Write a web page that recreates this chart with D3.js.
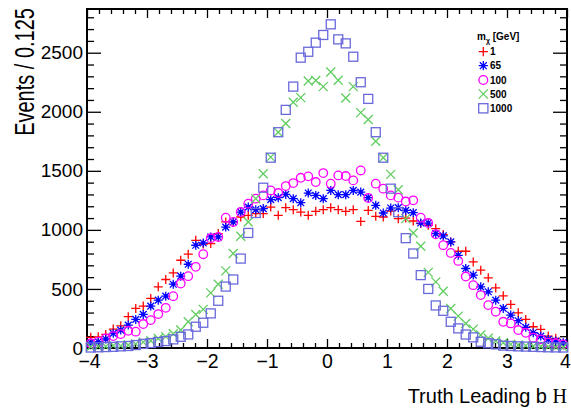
<!DOCTYPE html>
<html>
<head>
<meta charset="utf-8">
<script src="https://cdn.jsdelivr.net/npm/d3@7"></script>
<style>
  html, body { margin: 0; padding: 0; background: #fff; }
  svg { display: block; font-family: "Liberation Sans", Arial, Helvetica, sans-serif; }
</style>
</head>
<body>
<svg id="chart" width="571" height="414"></svg>
<script>
// ---- data ----
const xRange = [-4, 4];
const binWidth = 0.125;
const binCenters = d3.range(64).map(i => xRange[0] + binWidth * (i + 0.5));

const mass1 = [90,95,115,160,188,265,335,355,420,518,580,636,743,794,912,880,884,969,1067,1067,1109,1123,1138,1138,1193,1123,1188,1171,1151,1123,1157,1171,1188,1171,1157,1171,1072,1165,1115,1109,1160,1095,1100,1075,1053,1039,1010,960,898,819,819,729,659,594,509,442,369,298,242,180,158,101,82,40];
const mass65 = [45,53,76,124,152,194,242,284,355,405,439,540,608,709,870,889,940,940,1024,1067,1151,1193,1171,1180,1256,1273,1300,1264,1230,1312,1292,1264,1334,1298,1298,1334,1320,1273,1208,1143,1185,1188,1165,1146,1058,1058,969,949,898,785,673,617,518,476,405,335,279,231,175,129,101,73,59,45];
const mass100 = [40,53,82,101,118,146,138,203,236,287,340,439,546,608,687,794,929,940,1103,1067,1151,1222,1264,1292,1334,1312,1371,1396,1441,1453,1405,1481,1391,1461,1456,1419,1503,1270,1391,1349,1292,1273,1240,1250,1103,1058,963,870,805,737,605,532,448,363,307,222,208,152,129,87,73,45,40,31];
const mass500 = [10,15,12,20,18,25,35,50,62,80,96,120,152,222,284,327,467,540,653,800,946,1067,1264,1475,1616,1827,1900,2081,2120,2260,2264,2213,2337,2267,2117,2213,1993,1935,1750,1611,1470,1340,1095,974,861,640,560,480,335,270,208,160,110,82,59,45,31,25,20,15,12,10,8,6];
const mass1000 = [4,6,8,10,14,17,25,35,42,50,59,73,95,115,180,214,293,400,520,580,757,974,1143,1357,1611,1827,2016,2213,2458,2508,2585,2650,2740,2613,2579,2466,2250,2109,1827,1611,1349,1150,930,800,617,500,360,315,222,166,114,90,53,40,31,20,17,14,12,10,8,6,5,4];

const seriesLabels = ["1", "65", "100", "500", "1000"];
const seriesValues = [mass1, mass65, mass100, mass500, mass1000];
const seriesMarkers = ["plus", "asterisk", "circle", "cross", "square"];
const seriesColors = ["#ff0000", "#0000ff", "#ff00ff", "rgb(95,205,95)", "rgb(105,105,220)"];

const yMajorTicks = [0, 500, 1000, 1500, 2000, 2500];
const xMajorTicks = [-4, -3, -2, -1, 0, 1, 2, 3, 4];
const yTitle = "Events / 0.125";
const xTitleMain = "Truth Leading b ";
const xTitleSym = "H";
const legendTitle = ["m", "\u03c7", " [GeV]"];

// ---- layout ----
const svg = d3.select("#chart");
const L = 87, R = 567, T = 9, B = 348;
const x = d3.scaleLinear().domain(xRange).range([L, R]);
const y = d3.scaleLinear().domain([0, 2870]).range([B, T]);

const fontTick = "19px";

const yMinor = d3.range(0, 2870, 100).filter(v => v % 500 !== 0);
const xMinor = d3.range(41).map(i => +(xRange[0] + i * 0.2).toFixed(2)).filter(v => Math.abs(v - Math.round(v)) > 1e-6);

function styleAxis(g) {
  g.select(".domain").remove();
  g.selectAll(".tick line").attr("stroke", "#000").attr("stroke-width", 1.3);
}

// left axis
svg.append("g").attr("transform", `translate(${L},0)`)
  .call(d3.axisLeft(y).tickValues(yMinor).tickSize(-7).tickFormat(""))
  .call(styleAxis);
svg.append("g").attr("transform", `translate(${L},0)`)
  .call(d3.axisLeft(y).tickValues(yMajorTicks).tickSize(-14).tickPadding(4).tickFormat(d3.format("d")))
  .call(styleAxis)
  .call(g => g.selectAll("text").attr("font-size", fontTick).attr("fill", "#000").attr("font-family", "Liberation Sans, Arial, sans-serif"));
// right mirror
svg.append("g").attr("transform", `translate(${R},0)`)
  .call(d3.axisRight(y).tickValues(yMinor).tickSize(-7).tickFormat(""))
  .call(styleAxis);
svg.append("g").attr("transform", `translate(${R},0)`)
  .call(d3.axisRight(y).tickValues(yMajorTicks).tickSize(-14).tickFormat(""))
  .call(styleAxis);
// bottom axis
svg.append("g").attr("transform", `translate(0,${B})`)
  .call(d3.axisBottom(x).tickValues(xMinor).tickSize(-5).tickFormat(""))
  .call(styleAxis);
svg.append("g").attr("transform", `translate(0,${B})`)
  .call(d3.axisBottom(x).tickValues(xMajorTicks).tickSize(-9).tickPadding(6).tickFormat(d3.format("d")))
  .call(styleAxis)
  .call(g => g.selectAll("text").attr("font-size", "19.5px").attr("fill", "#000").attr("font-family", "Liberation Sans, Arial, sans-serif")
    .attr("dx", d => d === 4 ? -2 : (d === -4 ? 2 : 0)));
// top mirror
svg.append("g").attr("transform", `translate(0,${T})`)
  .call(d3.axisTop(x).tickValues(xMinor).tickSize(-5).tickFormat(""))
  .call(styleAxis);
svg.append("g").attr("transform", `translate(0,${T})`)
  .call(d3.axisTop(x).tickValues(xMajorTicks).tickSize(-9).tickFormat(""))
  .call(styleAxis);

// frame
svg.append("rect").attr("x", L).attr("y", T).attr("width", R - L).attr("height", B - T)
  .attr("fill", "none").attr("stroke", "#000").attr("stroke-width", 2);

// titles
svg.append("text")
  .attr("transform", `translate(34,8) rotate(-90) scale(1,1.4)`)
  .attr("text-anchor", "end")
  .attr("font-size", "20px").attr("fill", "#000")
  .text(yTitle);

const xt = svg.append("text")
  .attr("x", R).attr("y", 403).attr("text-anchor", "end")
  .attr("font-size", "20px").attr("fill", "#000");
xt.append("tspan").text(xTitleMain);
xt.append("tspan").attr("font-family", "Liberation Serif, 'Times New Roman', serif").text(xTitleSym);

// markers
function drawMarker(g, type, color, s) {
  const sw = 1.3;
  if (type === "plus") {
    g.append("path").attr("d", `M${-s},0H${s}M0,${-s}V${s}`).attr("stroke", color).attr("stroke-width", sw).attr("fill", "none");
  } else if (type === "cross") {
    g.append("path").attr("d", `M${-s},${-s}L${s},${s}M${-s},${s}L${s},${-s}`).attr("stroke", color).attr("stroke-width", sw).attr("fill", "none");
  } else if (type === "asterisk") {
    const d = s * 0.75;
    g.append("path").attr("d", `M${-s},0H${s}M0,${-s}V${s}M${-d},${-d}L${d},${d}M${-d},${d}L${d},${-d}`).attr("stroke", color).attr("stroke-width", sw).attr("fill", "none");
    g.append("circle").attr("r", 1.9).attr("fill", color);
  } else if (type === "circle") {
    g.append("circle").attr("r", s * 0.95).attr("stroke", color).attr("stroke-width", sw).attr("fill", "none");
  } else if (type === "square") {
    g.append("rect").attr("x", -s).attr("y", -s).attr("width", 2 * s).attr("height", 2 * s)
      .attr("stroke", color).attr("stroke-width", sw).attr("fill", "none");
  }
}

const plotG = svg.append("g");
seriesValues.forEach((vals, si) => {
  const sg = plotG.append("g");
  sg.selectAll("g.pt").data(vals.map((v, i) => ({ x: binCenters[i], v })))
    .enter().append("g").attr("class", "pt")
    .attr("transform", d => `translate(${x(d.x)},${y(d.v)})`)
    .each(function () { drawMarker(d3.select(this), seriesMarkers[si], seriesColors[si], 4.5); });
});

// legend
const lg = svg.append("g").attr("font-weight", "bold").attr("font-size", "10px").attr("fill", "#000");
const lt = lg.append("text").attr("x", 477).attr("y", 40);
lt.append("tspan").text(legendTitle[0]);
lt.append("tspan").attr("font-size", "7px").attr("dy", 2.5).text(legendTitle[1]);
lt.append("tspan").attr("dy", -2.5).text(legendTitle[2]);
const rowY = [51.7, 65.7, 80, 94, 108.3];
seriesLabels.forEach((lab, i) => {
  const mg = lg.append("g").attr("transform", `translate(483.3,${rowY[i]})`);
  drawMarker(mg, seriesMarkers[i], seriesColors[i], 4.6);
  lg.append("text").attr("x", 490).attr("y", rowY[i] + 3.6).text(lab);
});
</script>
</body>
</html>
